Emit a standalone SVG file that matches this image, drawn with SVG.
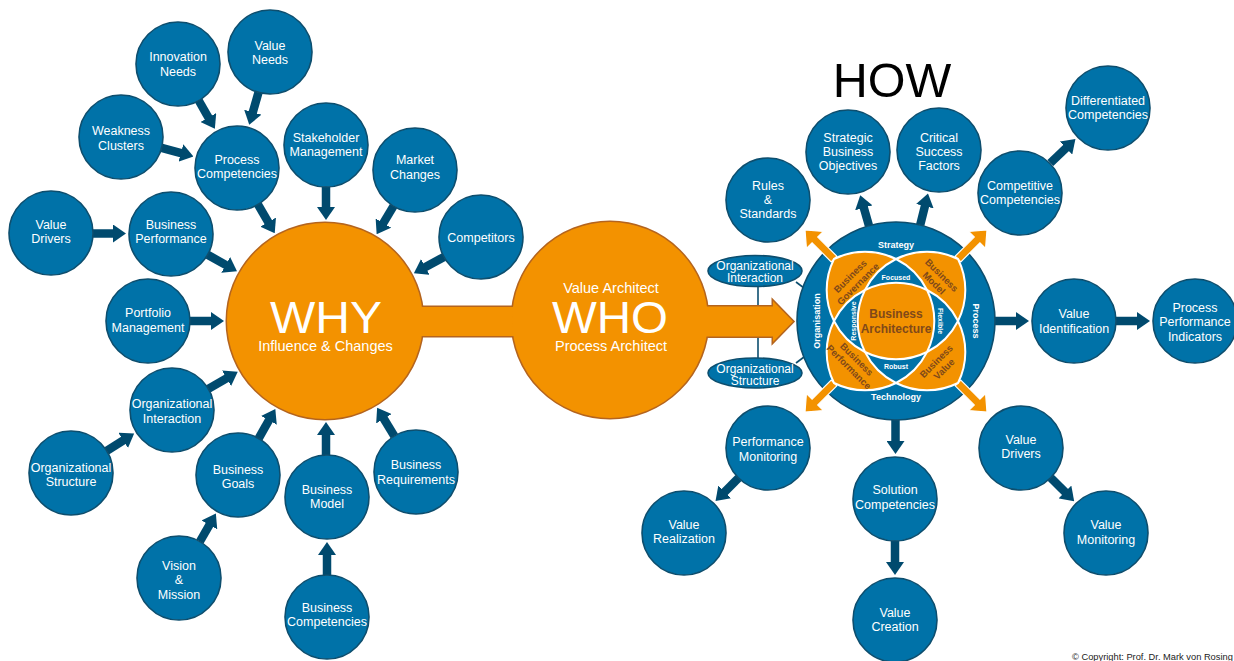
<svg xmlns="http://www.w3.org/2000/svg" xmlns:xlink="http://www.w3.org/1999/xlink" width="1234" height="661" viewBox="0 0 1234 661">
<style>
.n circle, .n ellipse {fill:#0072a8; stroke:#0d4e6e; stroke-width:1.6}
.t {font-family:"Liberation Sans", Arial, sans-serif; font-size:12.5px; fill:#fff; text-anchor:middle}
.a {stroke:#004a6e; stroke-width:8.5; fill:none; marker-end:url(#ah)}
.thin {stroke:#0d4e6e; stroke-width:1.6; fill:none}
.ob {stroke:#b4641e; stroke-width:3; fill:#f39200}
.of {fill:#f39200; stroke:none}
.big {font-family:"Liberation Sans", Arial, sans-serif; fill:#fff; text-anchor:middle}
.ring {font-family:"Liberation Sans", Arial, sans-serif; font-weight:bold; font-size:9px; fill:#fff; text-anchor:middle}
.inner {font-family:"Liberation Sans", Arial, sans-serif; font-weight:bold; font-size:7px; fill:#fff; text-anchor:middle}
.pt {font-family:"Liberation Sans", Arial, sans-serif; font-weight:bold; font-size:9.5px; fill:#80491a; text-anchor:middle}
.petal {fill:#f39200; stroke:#fff; stroke-width:2}
.oa {fill:#f39200; stroke:#fff; stroke-width:1.2}
</style>
<defs>
<marker id="ah" viewBox="0 0 13 18" refX="3" refY="9" markerWidth="13" markerHeight="18" markerUnits="userSpaceOnUse" orient="auto">
<path d="M0,0 L13,9 L0,18 Z" fill="#004a6e"/>
</marker>
<path id="petal" d="M0,-62 A69.32,69.32 0 0 0 -62,-62 A69.32,69.32 0 0 0 -62,0 A69.32,69.32 0 0 1 -31,-31 A69.32,69.32 0 0 1 0,-62 Z"/>
<polygon id="oarrow" points="0,-4 27,-4 27,-12 41,0 27,12 27,4 0,4"/>
</defs>
<rect width="1234" height="661" fill="#fff"/>

<g id="connectors">
<path class="a" d="M198.7,100.5 L209.9,120.1"/>
<path class="a" d="M258.5,92.4 L252,115.1"/>
<path class="a" d="M161.6,147.8 L183.8,153.8"/>
<path class="a" d="M257.9,204.4 L269.7,224.7"/>
<path class="a" d="M326,187 L326,210"/>
<path class="a" d="M393.5,206.1 L381.8,225.6"/>
<path class="a" d="M444,256.9 L422.7,268.4"/>
<path class="a" d="M93,233.5 L116,233.5"/>
<path class="a" d="M207.6,254.7 L228.3,266.4"/>
<path class="a" d="M190,321 L214,321"/>
<path class="a" d="M208.3,388.9 L229.1,376.8"/>
<path class="a" d="M106.7,450.8 L125.7,438.8"/>
<path class="a" d="M258.7,438.4 L270.4,417.7"/>
<path class="a" d="M326,455 L326,432"/>
<path class="a" d="M394.3,436 L382.3,416.2"/>
<path class="a" d="M199.9,541.5 L210.9,522.3"/>
<path class="a" d="M327,575 L327,552"/>
<path class="a" d="M869,225.8 L863,204.9"/>
<path class="a" d="M920.2,225 L925.6,203.3"/>
<path class="a" d="M1050.4,163 L1068.2,146"/>
<path class="a" d="M895.5,420 L895.5,444"/>
<path class="a" d="M895,541 L895,565"/>
<path class="a" d="M738.5,477.9 L722.6,493.9"/>
<path class="a" d="M1050.7,477.7 L1067.1,494.1"/>
<path class="a" d="M995,321 L1019,321"/>
<path class="a" d="M1116,321 L1140,321"/>
<path class="thin" d="M758,286 L758,358"/>
<path class="thin" d="M796,282 L816,297"/>
<path class="thin" d="M796,363 L816,348"/>
</g>

<g id="why-who">
<circle class="ob" cx="325" cy="321" r="98"/>
<rect class="ob" x="410" y="307" width="110" height="29"/>
<circle class="ob" cx="610" cy="320" r="98"/>
<polygon class="ob" points="690,306.5 773,306.5 773,301 793,321.5 773,342 773,336.5 690,336.5"/>
<circle class="of" cx="325" cy="321" r="98"/>
<rect class="of" x="410" y="307" width="110" height="29"/>
<circle class="of" cx="610" cy="320" r="98"/>
<polygon class="of" points="690,306.5 773,306.5 773,301 793,321.5 773,342 773,336.5 690,336.5"/>
</g>
<g id="why">
<text class="big" x="326" y="333" font-size="44" textLength="112" lengthAdjust="spacingAndGlyphs">WHY</text>
<text class="big" x="325.5" y="351" font-size="14.5">Influence &amp; Changes</text>
</g>
<g id="who">
<text class="big" x="611" y="292.5" font-size="14.5">Value Architect</text>
<text class="big" x="610" y="333" font-size="44" textLength="116" lengthAdjust="spacingAndGlyphs">WHO</text>
<text class="big" x="611" y="351" font-size="14.5">Process Architect</text>
</g>

<g id="how">
<text x="892" y="97" font-family="Liberation Sans, Arial, sans-serif" font-size="48.5" fill="#000" text-anchor="middle">HOW</text>
</g>

<g id="innovation-needs" class="n"><circle cx="178" cy="64" r="42"/><text class="t"><tspan x="178" y="60.5">Innovation</tspan><tspan x="178" y="75.5">Needs</tspan></text></g>
<g id="value-needs" class="n"><circle cx="270" cy="52" r="42"/><text class="t"><tspan x="270" y="49.5">Value</tspan><tspan x="270" y="63.5">Needs</tspan></text></g>
<g id="weakness-clusters" class="n"><circle cx="121" cy="137" r="42"/><text class="t"><tspan x="121" y="134.5">Weakness</tspan><tspan x="121" y="149.5">Clusters</tspan></text></g>
<g id="process-competencies" class="n"><circle cx="237" cy="168" r="42"/><text class="t"><tspan x="237" y="163.5">Process</tspan><tspan x="237" y="177.5">Competencies</tspan></text></g>
<g id="stakeholder-management" class="n"><circle cx="326" cy="145" r="42"/><text class="t"><tspan x="326" y="141.5">Stakeholder</tspan><tspan x="326" y="155.5">Management</tspan></text></g>
<g id="market-changes" class="n"><circle cx="415" cy="170" r="42"/><text class="t"><tspan x="415" y="163.5">Market</tspan><tspan x="415" y="178.5">Changes</tspan></text></g>
<g id="competitors" class="n"><circle cx="481" cy="237" r="42"/><text class="t"><tspan x="481" y="241.5">Competitors</tspan></text></g>
<g id="value-drivers-left" class="n"><circle cx="51" cy="233" r="42"/><text class="t"><tspan x="51" y="228.5">Value</tspan><tspan x="51" y="242.5">Drivers</tspan></text></g>
<g id="business-performance" class="n"><circle cx="171" cy="234" r="42"/><text class="t"><tspan x="171" y="228.5">Business</tspan><tspan x="171" y="242.5">Performance</tspan></text></g>
<g id="portfolio-management" class="n"><circle cx="148" cy="321" r="42"/><text class="t"><tspan x="148" y="316.5">Portfolio</tspan><tspan x="148" y="331.5">Management</tspan></text></g>
<g id="organizational-interaction-left" class="n"><circle cx="172" cy="410" r="42"/><text class="t"><tspan x="172" y="407.5">Organizational</tspan><tspan x="172" y="422.5">Interaction</tspan></text></g>
<g id="organizational-structure-left" class="n"><circle cx="71" cy="473" r="42"/><text class="t"><tspan x="71" y="471.5">Organizational</tspan><tspan x="71" y="485.5">Structure</tspan></text></g>
<g id="business-goals" class="n"><circle cx="238" cy="475" r="42"/><text class="t"><tspan x="238" y="473.5">Business</tspan><tspan x="238" y="487.5">Goals</tspan></text></g>
<g id="business-model" class="n"><circle cx="327" cy="497" r="42"/><text class="t"><tspan x="327" y="493.5">Business</tspan><tspan x="327" y="507.5">Model</tspan></text></g>
<g id="business-requirements" class="n"><circle cx="416" cy="472" r="42"/><text class="t"><tspan x="416" y="468.5">Business</tspan><tspan x="416" y="483.5">Requirements</tspan></text></g>
<g id="vision-mission" class="n"><circle cx="179" cy="578" r="42"/><text class="t"><tspan x="179" y="569.5">Vision</tspan><tspan x="179" y="583.5">&amp;</tspan><tspan x="179" y="598.5">Mission</tspan></text></g>
<g id="business-competencies" class="n"><circle cx="327" cy="617" r="42"/><text class="t"><tspan x="327" y="611.5">Business</tspan><tspan x="327" y="625.5">Competencies</tspan></text></g>

<g id="organizational-interaction-right" class="n"><ellipse cx="755" cy="271" rx="47" ry="15.5"/><text class="t" style="font-size:12px"><tspan x="755" y="269.5">Organizational</tspan><tspan x="755" y="282">Interaction</tspan></text></g>
<g id="organizational-structure-right" class="n"><ellipse cx="755" cy="373" rx="47" ry="15"/><text class="t" style="font-size:12px"><tspan x="755" y="372.5">Organizational</tspan><tspan x="755" y="384.5">Structure</tspan></text></g>

<g id="business-architecture">
<circle cx="896" cy="321" r="99" fill="#0072a8" stroke="#0d4e6e" stroke-width="1.6"/>
<use xlink:href="#oarrow" class="oa" transform="translate(834,259) rotate(-135)"/>
<use xlink:href="#oarrow" class="oa" transform="translate(958,259) rotate(-45)"/>
<use xlink:href="#oarrow" class="oa" transform="translate(834,383) rotate(135)"/>
<use xlink:href="#oarrow" class="oa" transform="translate(958,383) rotate(45)"/>
<use xlink:href="#petal" class="petal" transform="translate(896,321)"/>
<use xlink:href="#petal" class="petal" transform="translate(896,321) rotate(90)"/>
<use xlink:href="#petal" class="petal" transform="translate(896,321) rotate(180)"/>
<use xlink:href="#petal" class="petal" transform="translate(896,321) rotate(270)"/>
<path class="petal" transform="translate(896,321)" d="M-31,-31 A69.32,69.32 0 0 1 31,-31 A69.32,69.32 0 0 1 31,31 A69.32,69.32 0 0 1 -31,31 A69.32,69.32 0 0 1 -31,-31 Z"/>
<text class="ring" x="896" y="248">Strategy</text>
<text class="ring" x="896" y="400">Technology</text>
<text class="ring" transform="translate(817,321) rotate(-90)" x="0" y="3.2">Organisation</text>
<text class="ring" transform="translate(976,321) rotate(90)" x="0" y="3.2">Process</text>
<text class="inner" x="896" y="279.5">Focused</text>
<text class="inner" x="896" y="368.5">Robust</text>
<text class="inner" transform="translate(853,321) rotate(-90)" x="0" y="2.5">Responsive</text>
<text class="inner" transform="translate(940,321) rotate(90)" x="0" y="2.5">Flexible</text>
<g transform="translate(854,280) rotate(-45)"><text class="pt" x="0" y="-2">Business</text><text class="pt" x="0" y="9">Governance</text></g>
<g transform="translate(938,279) rotate(45)"><text class="pt" x="0" y="-2">Business</text><text class="pt" x="0" y="9">Model</text></g>
<g transform="translate(853,363) rotate(45)"><text class="pt" x="0" y="-2">Business</text><text class="pt" x="0" y="9">Performance</text></g>
<g transform="translate(940,365) rotate(-45)"><text class="pt" x="0" y="-2">Business</text><text class="pt" x="0" y="9">Value</text></g>
<text class="pt" x="896" y="318" style="font-size:12px">Business</text>
<text class="pt" x="896" y="333" style="font-size:12px">Architecture</text>
</g>

<g id="rules-standards" class="n"><circle cx="768" cy="200" r="42"/><text class="t"><tspan x="768" y="189.5">Rules</tspan><tspan x="768" y="203.5">&amp;</tspan><tspan x="768" y="217.5">Standards</tspan></text></g>
<g id="strategic-business-objectives" class="n"><circle cx="848" cy="152" r="42"/><text class="t"><tspan x="848" y="141.5">Strategic</tspan><tspan x="848" y="155.5">Business</tspan><tspan x="848" y="169.5">Objectives</tspan></text></g>
<g id="critical-success-factors" class="n"><circle cx="939" cy="150" r="42"/><text class="t"><tspan x="939" y="141.5">Critical</tspan><tspan x="939" y="155.5">Success</tspan><tspan x="939" y="169.5">Factors</tspan></text></g>
<g id="competitive-competencies" class="n"><circle cx="1020" cy="193" r="42"/><text class="t"><tspan x="1020" y="189.5">Competitive</tspan><tspan x="1020" y="203.5">Competencies</tspan></text></g>
<g id="differentiated-competencies" class="n"><circle cx="1108" cy="108" r="42"/><text class="t"><tspan x="1108" y="104.5">Differentiated</tspan><tspan x="1108" y="118.5">Competencies</tspan></text></g>
<g id="value-identification" class="n"><circle cx="1074" cy="321" r="42"/><text class="t"><tspan x="1074" y="317.5">Value</tspan><tspan x="1074" y="332.5">Identification</tspan></text></g>
<g id="process-performance-indicators" class="n"><circle cx="1195" cy="321" r="42"/><text class="t"><tspan x="1195" y="311.5">Process</tspan><tspan x="1195" y="325.5">Performance</tspan><tspan x="1195" y="340.5">Indicators</tspan></text></g>
<g id="performance-monitoring" class="n"><circle cx="768" cy="448" r="42"/><text class="t"><tspan x="768" y="445.5">Performance</tspan><tspan x="768" y="460.5">Monitoring</tspan></text></g>
<g id="value-realization" class="n"><circle cx="684" cy="533" r="42"/><text class="t"><tspan x="684" y="528.5">Value</tspan><tspan x="684" y="542.5">Realization</tspan></text></g>
<g id="solution-competencies" class="n"><circle cx="895" cy="499" r="42"/><text class="t"><tspan x="895" y="493.5">Solution</tspan><tspan x="895" y="508.5">Competencies</tspan></text></g>
<g id="value-creation" class="n"><circle cx="895" cy="620" r="42"/><text class="t"><tspan x="895" y="616.5">Value</tspan><tspan x="895" y="630.5">Creation</tspan></text></g>
<g id="value-drivers-right" class="n"><circle cx="1021" cy="448" r="42"/><text class="t"><tspan x="1021" y="443.5">Value</tspan><tspan x="1021" y="457.5">Drivers</tspan></text></g>
<g id="value-monitoring" class="n"><circle cx="1106" cy="533" r="42"/><text class="t"><tspan x="1106" y="528.5">Value</tspan><tspan x="1106" y="543.5">Monitoring</tspan></text></g>

<text x="1072" y="659.5" font-family="Liberation Sans, Arial, sans-serif" font-size="9.3" fill="#222">© Copyright: Prof. Dr. Mark von Rosing</text>
</svg>
